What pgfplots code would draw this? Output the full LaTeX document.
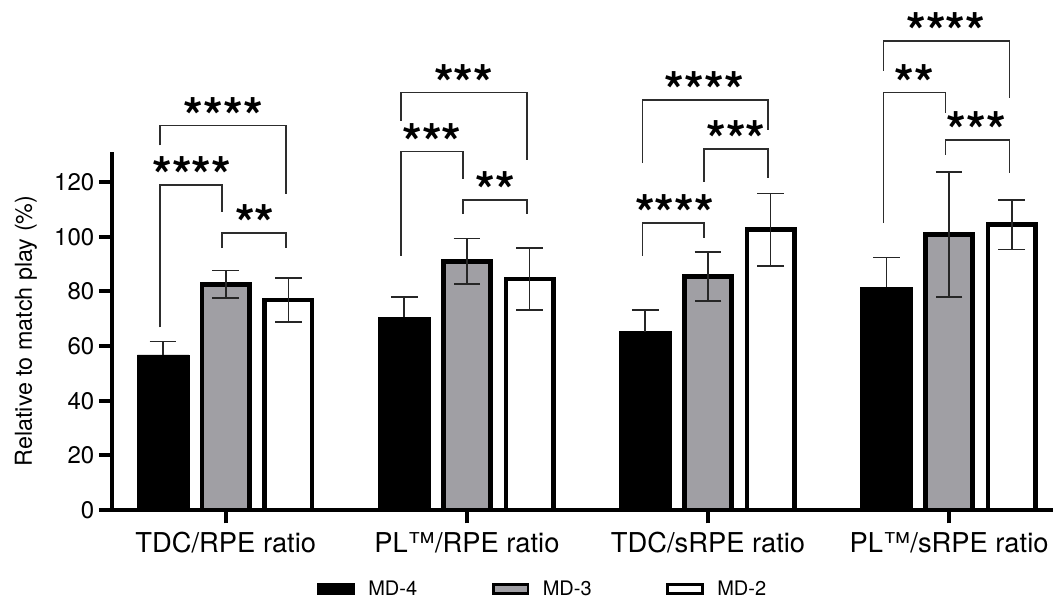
\documentclass[border=0pt]{standalone}
\usepackage{fontspec}
\setmainfont{TeX Gyre Heros}
\usepackage{pgfplots}
\pgfplotsset{compat=1.18}
\definecolor{mdgray}{RGB}{160,159,164}
\definecolor{brk}{RGB}{45,45,45}
% xl xr ytop yl yr starx stary stars
\newcommand{\sig}[8]{%
  \draw[brk, line width=1.3pt] (axis cs:#1,#4) -- (axis cs:#1,#3) -- (axis cs:#2,#3) -- (axis cs:#2,#5);
  \node[anchor=base, yshift=-21.8pt, inner sep=0pt, font=\bfseries\fontsize{38}{38}\selectfont] at (axis cs:#6,#7) {#8};}
\begin{document}
\begin{tikzpicture}
\begin{axis}[
  at={(0,0)}, anchor=south west,
  scale only axis, width=705.5pt, height=268.5pt,
  xmin=-0.4707, xmax=3.431, ymin=0, ymax=131,
  clip=false,
  ybar,
  axis x line*=bottom, axis y line*=left,
  axis line style={line width=3pt, black},
  tick style={line width=3pt, black},
  tick align=outside, major tick length=10pt,
  xtick={0,1,2,3},
  xticklabels={TDC/RPE ratio, PL™/RPE ratio, TDC/sRPE ratio, PL™/sRPE ratio},
  ytick={0,20,40,60,80,100,120},
  /pgf/number format/assume math mode=true,
  xticklabel style={font=\fontsize{20.5}{20.5}\selectfont, yshift=-3pt},
  yticklabel style={font=\fontsize{18}{18}\selectfont},
  ylabel={Relative to match play (\%)},
  ylabel style={font=\fontsize{17.5}{17.5}\selectfont, at={(axis description cs:-0.0917,0.5)}, anchor=center},
  legend columns=3,
  legend style={draw=none, fill=none, at={(rel axis cs:0.458,-0.221)}, anchor=center,
    font=\fontsize{15}{15}\selectfont,
    /tikz/every odd column/.append style={column sep=8pt},
    /tikz/every even column/.append style={column sep=54pt}},
  legend image code/.code={\draw[#1, line width=2.2pt] (0pt,-3.6pt) rectangle (26pt,3.6pt);},
  error bars/y explicit,
  error bars/error bar style={line width=1.2pt, black!85},
  error bars/error mark options={rotate=90, mark size=10pt, line width=1.2pt, black!85},
]
\addplot[fill=black, draw=black, line width=0.3pt, bar width=0.214, bar shift=-0.26,
  error bars/y dir=plus]
  coordinates {(0,56.8) +- (0,4.9) (1,70.5) +- (0,7.4) (2,65.3) +- (0,7.9) (3,81.5) +- (0,10.9)};
\addlegendentry{MD-4}
\addplot[fill=mdgray, draw=black, line width=3.5pt, bar width=0.196, bar shift=0,
  error bars/y dir=both]
  coordinates {(0,82.6) +- (0,5.0) (1,91.0) +- (0,8.4) (2,85.4) +- (0,9.0) (3,100.8) +- (0,22.9)};
\addlegendentry{MD-3}
\addplot[fill=white, draw=black, line width=3.5pt, bar width=0.196, bar shift=0.26,
  error bars/y dir=both]
  coordinates {(0,76.8) +- (0,8.1) (1,84.5) +- (0,11.4) (2,102.6) +- (0,13.2) (3,104.4) +- (0,9.0)};
\addlegendentry{MD-2}
% group 1
\sig{-0.272}{-0.015}{119.0}{66.8}{109.0}{-0.141}{126.4}{****}
\sig{-0.015}{0.25}{101.3}{95.8}{95.8}{0.121}{108.8}{**}
\sig{-0.272}{0.25}{140.7}{133.4}{115.6}{-0.01}{148.2}{****}
% group 2
\sig{0.728}{0.985}{131.2}{93.0}{121.2}{0.855}{138.7}{***}
\sig{0.985}{1.25}{113.5}{108.3}{108.3}{1.117}{121.0}{**}
\sig{0.728}{1.25}{152.8}{142.4}{128.2}{0.987}{160.3}{***}
% group 3
\sig{1.728}{1.985}{105.0}{93.0}{99.5}{1.862}{112.5}{****}
\sig{1.985}{2.25}{132.2}{120.2}{121.4}{2.116}{139.7}{***}
\sig{1.728}{2.25}{150.1}{126.9}{138.9}{1.985}{157.6}{****}
% group 4
\sig{2.728}{2.985}{152.8}{105.0}{145.3}{2.855}{160.3}{**}
\sig{2.985}{3.25}{135.5}{130.0}{123.5}{3.113}{143.0}{***}
\sig{2.728}{3.25}{171.5}{160.7}{150.7}{2.986}{179.0}{****}
\end{axis}
\pgfresetboundingbox
\path[use as bounding box] (-84.2pt,-68.25pt) rectangle (705.5pt,382.5pt);
\end{tikzpicture}
\end{document}
